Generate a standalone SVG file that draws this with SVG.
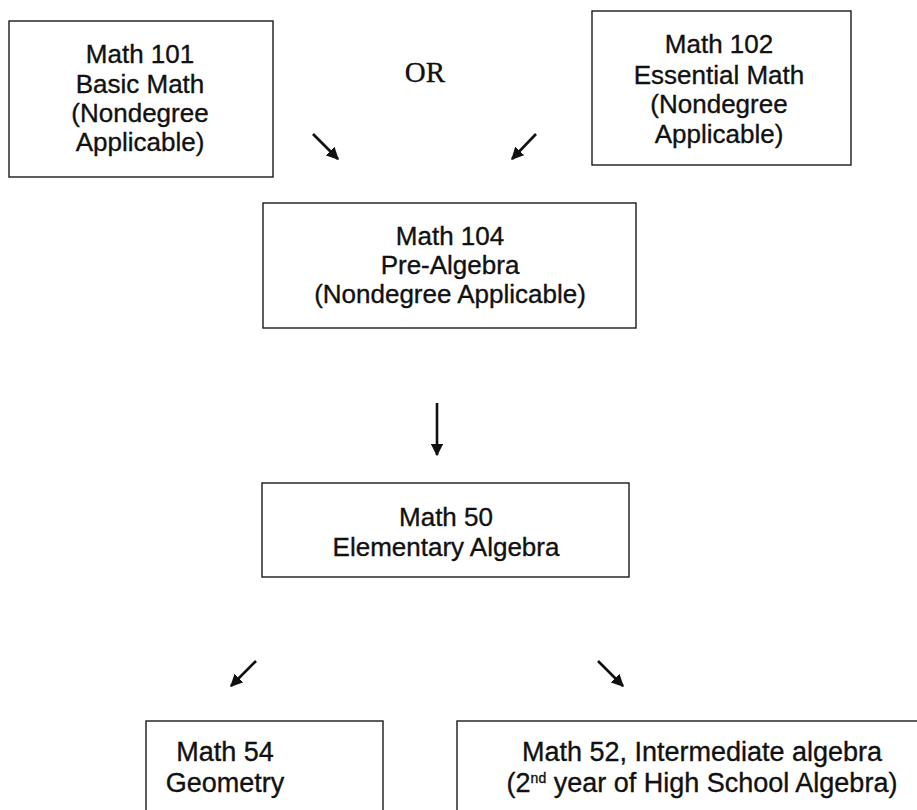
<svg xmlns="http://www.w3.org/2000/svg" width="917" height="810" viewBox="0 0 917 810">
<style>
.box{fill:#fff;stroke:#1a1a1a;stroke-width:1.4}
.t{font-family:"Liberation Sans",Arial,sans-serif;font-size:26px;fill:#111;stroke:#111;stroke-width:0.35;text-anchor:middle}
.tb{font-size:27px}
.or{font-family:"Liberation Serif","Times New Roman",serif;font-size:29px;fill:#111;stroke:#111;stroke-width:0.3;text-anchor:middle}
.c{stroke:#111;stroke-width:2.6;fill:none}
</style>
<defs>
<marker id="ah" viewBox="0 0 10 10" refX="9" refY="5" markerWidth="4.8" markerHeight="4.8" orient="auto" markerUnits="strokeWidth">
<path d="M0,0 L10,5 L0,10 Z" fill="#111"/>
</marker>
</defs>
<rect width="917" height="810" fill="#fff"/>
<g id="math101">
<rect class="box" x="9" y="21" width="264" height="156"/>
<text class="t" x="140" y="63">Math 101</text>
<text class="t" x="140" y="93">Basic Math</text>
<text class="t" x="140" y="122">(Nondegree</text>
<text class="t" x="140" y="151">Applicable)</text>
</g>
<g id="or-label">
<text class="or" x="425" y="82">OR</text>
</g>
<g id="math102">
<rect class="box" x="592" y="11" width="259" height="154"/>
<text class="t" x="719" y="53">Math 102</text>
<text class="t" x="719" y="84">Essential Math</text>
<text class="t" x="719" y="113">(Nondegree</text>
<text class="t" x="719" y="143">Applicable)</text>
</g>
<g id="math104">
<rect class="box" x="263" y="203" width="373" height="125"/>
<text class="t" x="450" y="245">Math 104</text>
<text class="t" x="450" y="274">Pre-Algebra</text>
<text class="t" x="450" y="303">(Nondegree Applicable)</text>
</g>
<g id="math50">
<rect class="box" x="262" y="483" width="367" height="94"/>
<text class="t" x="446" y="526">Math 50</text>
<text class="t" x="446" y="556">Elementary Algebra</text>
</g>
<g id="math54">
<rect class="box" x="146" y="721" width="237" height="120"/>
<text class="t tb" x="225" y="761">Math 54</text>
<text class="t tb" x="225" y="792">Geometry</text>
</g>
<g id="math52">
<rect class="box" x="457" y="721" width="480" height="120"/>
<text class="t tb" x="702" y="761">Math 52, Intermediate algebra</text>
<text class="t tb" x="702" y="792">(2<tspan font-size="14" dy="-9">nd</tspan><tspan dy="9"> year of High School Algebra)</tspan></text>
</g>
<g id="connectors">
<line class="c" x1="313" y1="134" x2="338" y2="159" marker-end="url(#ah)"/>
<line class="c" x1="536" y1="134" x2="512" y2="159" marker-end="url(#ah)"/>
<line class="c" x1="437" y1="403" x2="437" y2="455" marker-end="url(#ah)"/>
<line class="c" x1="256" y1="661" x2="231" y2="686" marker-end="url(#ah)"/>
<line class="c" x1="598" y1="661" x2="623" y2="686" marker-end="url(#ah)"/>
</g>
</svg>
